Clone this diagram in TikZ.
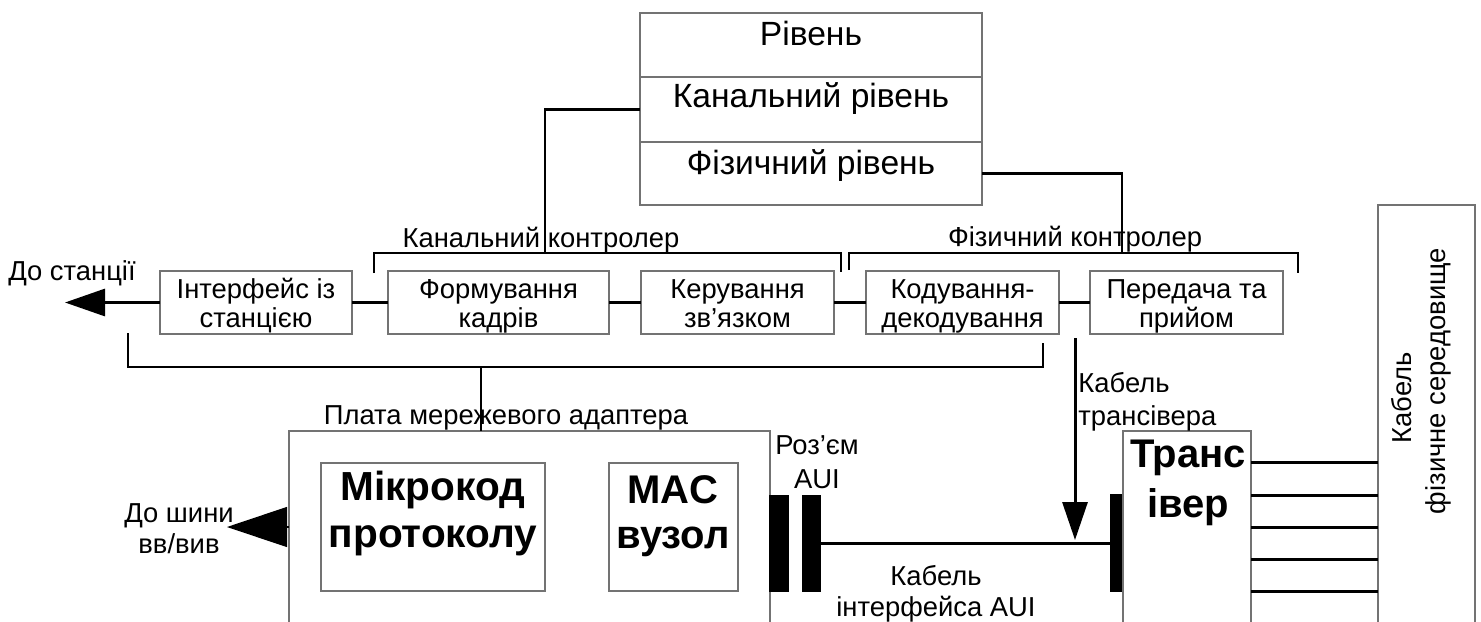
\documentclass[tikz,border=0pt]{standalone}
\usepackage{fontspec}
\setmainfont{Liberation Sans}
\usetikzlibrary{arrows.meta}

% box given by its corners in pixel units (1px = 0.5pt)
\newcommand\pxnode[7]{%
  \node[#6, minimum width={(#4-#2)*0.5pt}, minimum height={(#5-#3)*0.5pt}]
    (#1) at ({(#2+#4)/2},{(#3+#5)/2}) {#7};}

\tikzset{
  box/.style={draw=black!55, line width=0.6pt, inner sep=0pt, outer sep=0pt},
  bar/.style={fill=black, draw=none, inner sep=0pt, outer sep=0pt},
  txt/.style={inner sep=0pt, anchor=base, align=center,
    font=\fontsize{13.7}{14.3}\selectfont},
  tabtxt/.style={txt, font=\fontsize{16.8}{18}\selectfont},
  bigtxt/.style={inner sep=0pt, anchor=base, align=center,
    font=\fontsize{20.3}{23.5}\selectfont\bfseries},
  wire/.style={line width=1.5pt},
  bracket/.style={line width=1.3pt},
}

\begin{document}
\begin{tikzpicture}[x=0.5pt,y=-0.5pt]
\useasboundingbox (0,0) rectangle (1481,621);
\clip (0,0) rectangle (1481,621);

% layer table
\pxnode{rowA}{640}{13}{982}{77}{box}{}
\pxnode{rowB}{640}{77}{982}{142}{box}{}
\pxnode{rowC}{640}{142}{982}{205}{box}{}
\node[tabtxt] (tA) at (811,45) {Рівень};
\node[tabtxt] (tB) at (811,107) {Канальний рівень};
\node[tabtxt] (tC) at (811,174) {Фізичний рівень};

% functional blocks (multi-line texts are placed by their last baseline)
\pxnode{iface}{160}{271}{352}{334}{box}{}
\pxnode{frame}{388}{271}{609}{334}{box}{}
\pxnode{link}{641}{271}{834}{334}{box}{}
\pxnode{codec}{866}{271}{1059}{334}{box}{}
\pxnode{txrx}{1090}{271}{1283}{334}{box}{}
\node[txt] (tIface) at (256,327) {Інтерфейс із\\станцією};
\node[txt] (tFrame) at (498.5,327) {Формування\\кадрів};
\node[txt] (tLink) at (737.5,327) {Керування\\зв’язком};
\node[txt] (tCodec) at (962.5,327) {Кодування-\\декодування};
\node[txt] (tTxrx) at (1186.5,327) {Передача та\\прийом};

\node[txt] (tSta) at (72,280) {До станції};
\node[txt] (tChan) at (541,247) {Канальний контролер};
\node[txt] (tPhys) at (1075,246) {Фізичний контролер};

% hardware
\pxnode{plata}{289}{431}{770}{660}{box}{}
\pxnode{micro}{321}{463}{545}{591}{box}{}
\pxnode{mac}{609}{463}{738}{591}{box}{}
\pxnode{barA}{769}{495}{789}{592}{bar}{}
\pxnode{barB}{802}{495}{821}{592}{bar}{}
\pxnode{barC}{1110}{494}{1123}{592}{bar}{}
\pxnode{trans}{1123}{431}{1251}{660}{box}{}
\pxnode{medium}{1378}{205}{1475}{660}{box}{}

\node[txt] (tPlata) at (506,424) {Плата мережевого адаптера};
\node[bigtxt] (tMicro) at (433,547) {Мікрокод\\протоколу};
\node[bigtxt, font=\fontsize{20}{22.5}\selectfont\bfseries] (tMac) at (673,548) {MAC\\вузол};
\node[bigtxt, font=\fontsize{20}{25}\selectfont\bfseries] (tTrans) at (1188,517) {Транс\\івер};
\node[txt, font=\fontsize{13.7}{17}\selectfont] (tConn) at (817,488) {Роз’єм\\AUI};
\node[txt, font=\fontsize{13.7}{15.5}\selectfont] (tAui) at (936,616) {Кабель\\інтерфейса AUI};
\node[txt, font=\fontsize{13.7}{15.5}\selectfont] (tBus) at (179,553) {До шини\\вв/вив};
\node[txt, font=\fontsize{13.7}{16.5}\selectfont, align=left, anchor=base west] (tTc) at (1078,425) {Кабель\\трансівера};
\node[txt, anchor=center, rotate=90] (tMedA) at (1402,398) {Кабель};
\node[txt, anchor=center, rotate=90] (tMedB) at (1438,381) {фізичне середовище};

% links between blocks
\draw[wire] (iface.east) -- (frame.west);
\draw[wire] (frame.east) -- (link.west);
\draw[wire] (link.east) -- (codec.west);
\draw[wire] (codec.east) -- (txrx.west);
\coordinate (staTip) at (65,302.5);
\draw[wire, -{Triangle[length=20pt,width=13.5pt]}] (iface.west) -- (staTip);

% controller brackets and their ties to the table
\coordinate (cb1) at (374,273);
\coordinate (cb2) at (374,253);
\coordinate (cb3) at (841,253);
\coordinate (cb4) at (841,272);
\draw[bracket] (cb1) -- (cb2) -- (cb3) -- (cb4);
\coordinate (pb1) at (849,270);
\coordinate (pb2) at (849,253);
\coordinate (pb3) at (1298,253);
\coordinate (pb4) at (1298,273);
\draw[bracket] (pb1) -- (pb2) -- (pb3) -- (pb4);
\coordinate (chanTap) at (545,253);
\coordinate (physTap) at (1122,253);
\draw[bracket] (rowB.west) -| (chanTap);
\draw[bracket] (rowC.east) -| (physTap);

% adapter board bracket
\coordinate (bb1) at (128,333);
\coordinate (bb2) at (128,367);
\coordinate (bb3) at (1043,367);
\coordinate (bb4) at (1043,343);
\draw[bracket] (bb1) -- (bb2) -- (bb3) -- (bb4);
\coordinate (boardTap) at (481,367);
\draw[bracket] (boardTap) -- (boardTap |- plata.north);

% transceiver cable
\coordinate (tcTop) at (1075,338);
\coordinate (tcTip) at (1075,540);
\draw[wire, -{Triangle[length=19pt,width=12.5pt]}] (tcTop) -- (tcTip);
\draw[line width=1.1pt] (barB.east) -- (barB.east -| barC.west);

% system bus
\coordinate (busTip) at (227,527);
\draw[line width=0.6pt, -{Triangle[length=30pt,width=20pt]}] (plata.west |- busTip) -- (busTip);

% transceiver to medium
\foreach \yy in {462,495,527,559,591}
  \draw[wire] (trans.east |- 0,\yy) -- (medium.west |- 0,\yy);
\end{tikzpicture}
\end{document}
